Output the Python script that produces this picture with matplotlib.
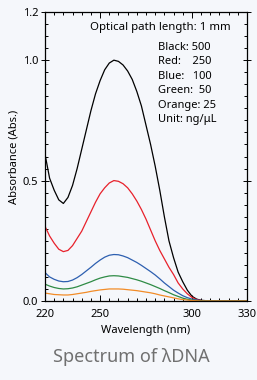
import matplotlib
matplotlib.use("Agg")
import matplotlib.pyplot as plt
from matplotlib.ticker import MultipleLocator

plt.rcParams['font.family'] = ['Noto Sans', 'DejaVu Sans']

# wavelength (nm) and absorbance
wavelength = [220, 222.5, 225, 227.5, 230, 232.5, 235, 237.5, 240, 242.5,
              245, 247.5, 250, 252.5, 255, 257.5, 260, 262.5, 265, 267.5,
              270, 272.5, 275, 277.5, 280, 282.5, 285, 287.5, 290, 292.5,
              295, 297.5, 300, 302.5, 305, 310, 320, 330]
black = [0.61, 0.51, 0.46, 0.42, 0.405, 0.43, 0.48, 0.55, 0.63, 0.71,
         0.79, 0.86, 0.915, 0.96, 0.988, 1.0, 0.995, 0.98, 0.955, 0.92,
         0.87, 0.81, 0.73, 0.65, 0.56, 0.46, 0.35, 0.25, 0.18, 0.12,
         0.08, 0.045, 0.02, 0.008, 0.003, 0.0, 0.0, 0.0]
red = [0.31, 0.27, 0.24, 0.215, 0.205, 0.21, 0.23, 0.26, 0.29, 0.33,
       0.37, 0.41, 0.445, 0.47, 0.49, 0.5, 0.497, 0.487, 0.47, 0.445,
       0.415, 0.38, 0.34, 0.295, 0.25, 0.21, 0.175, 0.14, 0.11, 0.075,
       0.05, 0.03, 0.015, 0.006, 0.002, 0.0, 0.0, 0.0]
blue = [0.118, 0.1, 0.09, 0.083, 0.08, 0.081, 0.087, 0.097, 0.11, 0.125,
        0.14, 0.156, 0.17, 0.182, 0.19, 0.193, 0.192, 0.187, 0.18, 0.17,
        0.16, 0.148, 0.135, 0.122, 0.108, 0.092, 0.075, 0.06, 0.045, 0.033,
        0.022, 0.014, 0.008, 0.004, 0.002, 0.0, 0.0, 0.0]
green = [0.07, 0.062, 0.056, 0.052, 0.05, 0.051, 0.054, 0.059, 0.066, 0.073,
         0.08, 0.088, 0.095, 0.1, 0.104, 0.105, 0.104, 0.101, 0.098, 0.093,
         0.088, 0.082, 0.075, 0.068, 0.06, 0.052, 0.043, 0.035, 0.026, 0.019,
         0.012, 0.007, 0.004, 0.002, 0.0, 0.0, 0.0, 0.0]
orange = [0.033, 0.03, 0.027, 0.026, 0.025, 0.025, 0.027, 0.03, 0.033, 0.036,
          0.04, 0.043, 0.046, 0.048, 0.05, 0.05, 0.05, 0.049, 0.047, 0.045,
          0.043, 0.04, 0.037, 0.034, 0.03, 0.025, 0.021, 0.017, 0.013, 0.009,
          0.006, 0.004, 0.002, 0.001, 0.0, 0.0, 0.0, 0.0]

legend_lines = ["Black: 500", "Red:    250", "Blue:   100", "Green:  50", "Orange: 25", "Unit: ng/\u03bcL"]
xticks = [220, 250, 300, 330]
yticks = [0.0, 0.5, 1.0, 1.2]

bg = '#f5f7fb'
fig = plt.figure(figsize=(2.57, 3.80), dpi=100, facecolor=bg)
ax = fig.add_axes([45/257, 79/380, 202/257, 289/380], facecolor=bg)

lw = 0.9
ax.plot(wavelength, black, color='black', lw=lw)
ax.plot(wavelength, red, color='#e8212b', lw=lw)
ax.plot(wavelength, blue, color='#2d5fb0', lw=lw)
ax.plot(wavelength, green, color='#2e8b45', lw=lw)
ax.plot(wavelength, orange, color='#f28c28', lw=lw)

ax.set_xlim(220, 330)
ax.set_ylim(0, 1.2)
ax.set_xticks(xticks)
ax.set_yticks(yticks)
ax.set_yticklabels(['0.0', '0.5', '1.0', '1.2'])
ax.xaxis.set_minor_locator(MultipleLocator(5))
ax.yaxis.set_minor_locator(MultipleLocator(0.05))
ax.tick_params(which='both', direction='in', top=True, right=True, labelsize=8, width=0.7)
ax.tick_params(which='major', length=4)
ax.tick_params(which='minor', length=2)
ax.tick_params(axis='y', which='major', direction='inout', length=6, pad=2)
ax.tick_params(axis='x', which='major', pad=6)
for s in ax.spines.values():
    s.set_linewidth(0.9)

ax.set_xlabel('Wavelength (nm)', fontsize=8, labelpad=3)
ax.set_ylabel('Absorbance (Abs.)', fontsize=8, labelpad=2)

ax.text(0.57, 0.945, 'Optical path length: 1 mm', transform=ax.transAxes,
        fontsize=8.2, ha='center', va='center')
for i, t in enumerate(legend_lines):
    ax.text(113/202, 0.877 - i*0.05, t, transform=ax.transAxes, fontsize=8, ha='left', va='center')

fig.text(0.51, 0.06, 'Spectrum of \u03bbDNA', fontsize=13, color='#707070', ha='center', va='center')

fig.savefig('out.png', dpi=100, facecolor=bg)
